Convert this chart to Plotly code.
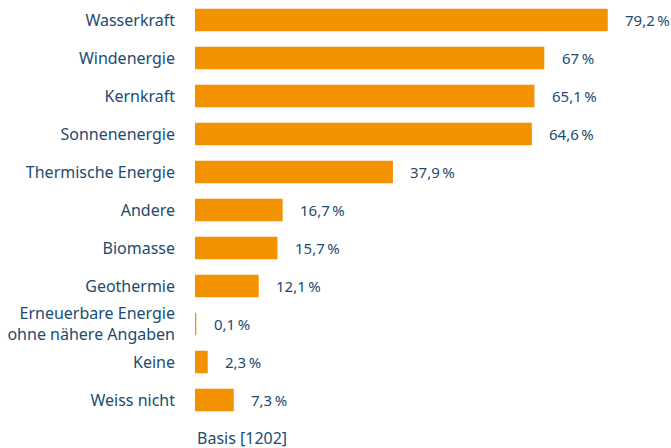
import plotly.graph_objects as go

categories = [
    "Wasserkraft",
    "Windenergie",
    "Kernkraft",
    "Sonnenenergie",
    "Thermische Energie",
    "Andere",
    "Biomasse",
    "Geothermie",
    "Erneuerbare Energie<br>ohne nähere Angaben",
    "Keine",
    "Weiss nicht",
]
values = [79.2, 67, 65.1, 64.6, 37.9, 16.7, 15.7, 12.1, 0.1, 2.3, 7.3]
labels = ["79,2\u2009%", "67\u2009%", "65,1\u2009%", "64,6\u2009%", "37,9\u2009%", "16,7\u2009%",
          "15,7\u2009%", "12,1\u2009%", "0,1\u2009%", "2,3\u2009%", "7,3\u2009%"]

TEXT = "#1d4b70"
ORANGE = "#f39200"
FONT = "Noto Sans"

fig = go.Figure(
    go.Bar(
        x=values,
        y=categories,
        orientation="h",
        marker=dict(color=ORANGE, line=dict(width=1.5, color=ORANGE)),
        hoverinfo="skip",
    )
)

for v, c, t in zip(values, categories, labels):
    fig.add_annotation(
        x=v, y=c, text=t, showarrow=False, xanchor="left", xshift=16,
        font=dict(family=FONT, size=15, color=TEXT),
    )

fig.add_annotation(
    x=0, y=0, xref="paper", yref="paper", yshift=-6, text="Basis [1202]",
    showarrow=False, xanchor="left", yanchor="top",
    font=dict(family=FONT, size=16, color=TEXT),
)

fig.update_layout(
    width=671,
    height=448,
    margin=dict(l=195, r=0, t=1, b=29),
    plot_bgcolor="white",
    paper_bgcolor="white",
    bargap=0.45,
    showlegend=False,
    xaxis=dict(range=[0, 91.5], visible=False, fixedrange=True),
    yaxis=dict(
        autorange="reversed",
        showgrid=False,
        showline=False,
        ticks="",
        ticklabelstandoff=19,
        tickfont=dict(family=FONT, size=16, color=TEXT),
        fixedrange=True,
    ),
)

fig.write_html(
    "out.html",
    config={"displayModeBar": False},
    post_script="document.body.style.margin='0';document.body.style.overflow='hidden';",
)
